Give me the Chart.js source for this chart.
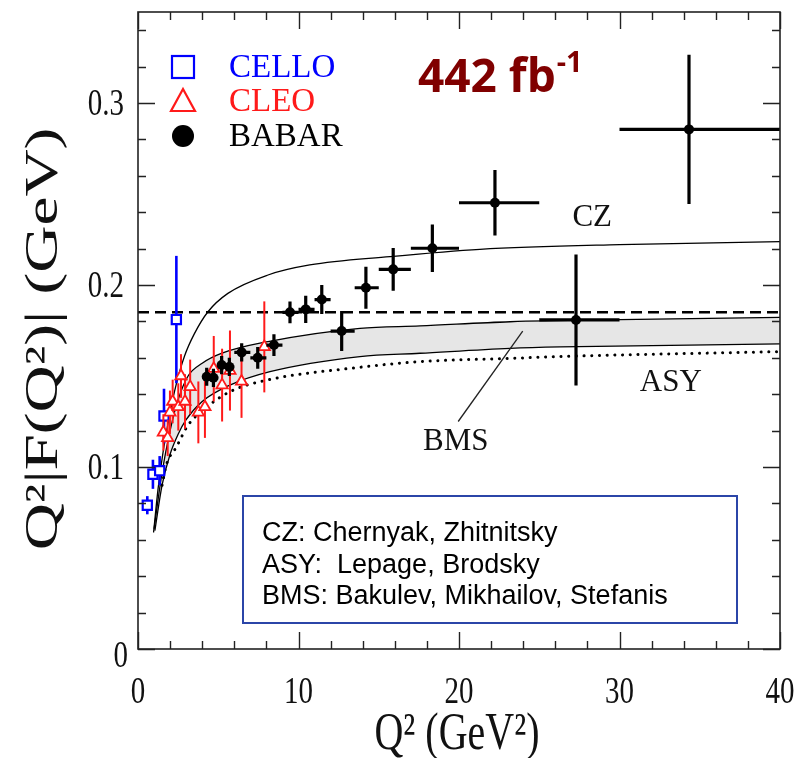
<!DOCTYPE html>
<html>
<head>
<meta charset="utf-8">
<script src="https://cdn.jsdelivr.net/npm/chart.js@4.4.1/dist/chart.umd.min.js"></script>
<style>
  html, body { margin: 0; padding: 0; background: #ffffff; }
  #wrap { width: 799px; height: 758px; }
</style>
</head>
<body>
<div id="wrap"><canvas id="c" width="799" height="758"></canvas></div>
<script>
// ---- measured pion transition form factor, Q^2 |F(Q^2)| in GeV ----
const celloQ2  = [0.58, 0.93, 1.35, 1.62, 2.39];
const celloF   = [0.079, 0.096, 0.098, 0.128, 0.181];
const celloErr = [0.005, 0.008, 0.008, 0.015, 0.035];

const cleoQ2  = [1.58, 1.85, 1.99, 2.16, 2.51, 2.68, 2.93, 3.25, 3.76, 4.17, 4.72, 5.24, 5.73, 6.45, 7.87];
const cleoF   = [0.119, 0.116, 0.130, 0.136, 0.133, 0.150, 0.136, 0.144, 0.130, 0.133, 0.154, 0.145, 0.153, 0.147, 0.166];
const cleoErr = [0.010, 0.010, 0.012, 0.012, 0.013, 0.012, 0.015, 0.015, 0.017, 0.017, 0.018, 0.020, 0.022, 0.020, 0.025];

const babarQ2    = [4.28, 4.70, 5.21, 5.69, 6.46, 7.46, 8.47, 9.47, 10.45, 11.45, 12.69, 14.20, 15.90, 18.34, 22.24, 27.29, 34.33];
const babarF     = [0.1496, 0.149, 0.156, 0.155, 0.163, 0.160, 0.167, 0.185, 0.1866, 0.192, 0.1747, 0.1985, 0.2086, 0.2202, 0.2452, 0.1808, 0.2855];
const babarErr   = [0.005, 0.005, 0.005, 0.005, 0.005, 0.006, 0.006, 0.006, 0.0075, 0.008, 0.011, 0.0115, 0.0117, 0.013, 0.018, 0.036, 0.041];
const babarBinLo = [4.0, 4.5, 5.0, 5.5, 6.0, 7.0, 8.0, 9.0, 10.0, 11.0, 12.0, 13.5, 15.0, 17.0, 20.0, 25.0, 30.0];
const babarBinHi = [4.5, 5.0, 5.5, 6.0, 7.0, 8.0, 9.0, 10.0, 11.0, 12.0, 13.5, 15.0, 17.0, 20.0, 25.0, 30.0, 40.0];

// ---- theory curves ----
const czQ2  = [0.97, 1.25, 1.56, 2.0, 2.37, 2.9, 3.5, 4.36, 5.6, 8.1, 10.7, 15.7, 21.3, 30, 40];
const czF   = [0.064, 0.088, 0.108, 0.130, 0.145, 0.161, 0.173, 0.1853, 0.1954, 0.2055, 0.211, 0.2156, 0.2196, 0.2222, 0.2238];

const bmsHiQ2 = [1.0, 1.5, 2.0, 2.5, 3.12, 4.0, 5.19, 8.1, 13.83, 17.57, 23.18, 30, 40];
const bmsHiF  = [0.066, 0.097, 0.120, 0.137, 0.150, 0.157, 0.1624, 0.1689, 0.1762, 0.1775, 0.1798, 0.181, 0.1822];
const bmsLoQ2 = [1.05, 1.5, 2.0, 2.5, 3.0, 4.0, 5.73, 8.22, 13.83, 17.57, 23.18, 26.3, 40];
const bmsLoF  = [0.065, 0.090, 0.107, 0.118, 0.126, 0.136, 0.145, 0.1524, 0.1607, 0.1625, 0.1652, 0.166, 0.1676];

const asyQ2 = [1.5, 1.76, 2.39, 3.12, 4.15, 5.73, 7.9, 13.83, 17.57, 23.18, 26.3, 40];
const asyF  = [0.090, 0.101, 0.111, 0.123, 0.132, 0.1414, 0.1475, 0.1548, 0.1579, 0.1597, 0.1607, 0.1634];

const asymptote = 0.185;   // 2 f_pi

// ---- axes ----
const xRange = [0, 40];
const yRange = [0, 0.35];
const xTickLabels = [0, 10, 20, 30, 40];
const yTickLabels = [0, 0.1, 0.2, 0.3];

const legendNames = ['CELLO', 'CLEO', 'BABAR'];
const boxLines = ['CZ: Chernyak, Zhitnitsky', 'ASY:  Lepage, Brodsky', 'BMS: Bakulev, Mikhailov, Stefanis'];

const BLUE = '#0000ff', RED = '#ff1a1a', BLACK = '#000000';
const SERIF = '"Liberation Serif", "Times New Roman", serif';

const pts = (xs, ys) => xs.map((x, i) => ({ x: x, y: ys[i] }));

const curve = { showLine: true, pointRadius: 0, borderColor: BLACK, borderWidth: 1.3,
                fill: false, cubicInterpolationMode: 'monotone' };

const datasets = [
  Object.assign({}, curve, { label: 'BMS', data: pts(bmsHiQ2, bmsHiF),
    backgroundColor: '#e6e6e6', fill: '+1', order: 10 }),
  Object.assign({}, curve, { label: 'BMS low', data: pts(bmsLoQ2, bmsLoF), order: 9 }),
  Object.assign({}, curve, { label: 'CZ', data: pts(czQ2, czF), order: 8 }),
  Object.assign({}, curve, { label: 'ASY', data: pts(asyQ2, asyF), borderWidth: 3,
    borderDash: [0.1, 7.6], borderCapStyle: 'round', order: 7 }),
  Object.assign({}, curve, { label: 'asymptotic',
    data: [{ x: xRange[0], y: asymptote }, { x: xRange[1], y: asymptote }],
    borderWidth: 2.4, borderDash: [11, 6], cubicInterpolationMode: 'default', order: 6 }),
  { label: 'CELLO', data: celloQ2.map((x, i) => ({ x: x, y: celloF[i], e: celloErr[i] })),
    showLine: false, pointStyle: 'rect', pointRadius: 6.5, pointBorderWidth: 2.2,
    borderColor: BLUE, backgroundColor: '#ffffff', errColor: BLUE, errWidth: 2.6, order: 3 },
  { label: 'CLEO', data: cleoQ2.map((x, i) => ({ x: x, y: cleoF[i], e: cleoErr[i] })),
    showLine: false, pointStyle: 'triangle', pointRadius: 6.5, pointBorderWidth: 1.8,
    borderColor: RED, backgroundColor: '#ffffff', errColor: RED, errWidth: 2, order: 2 },
  { label: 'BABAR', data: babarQ2.map((x, i) => ({ x: x, y: babarF[i], e: babarErr[i], xl: babarBinLo[i], xh: babarBinHi[i] })),
    showLine: false, pointStyle: 'circle', pointRadius: 5, pointBorderWidth: 0,
    borderColor: BLACK, backgroundColor: BLACK, errColor: BLACK, errWidth: 3.2, order: 1 }
];

// vertical (and horizontal bin) error bars, painted just under each marker set
const errorBars = {
  id: 'errorBars',
  beforeDatasetDraw(chart, args) {
    const ds = chart.data.datasets[args.index];
    if (!ds.errColor) return;
    const { ctx, chartArea } = chart;
    const xs = chart.scales.x, ys = chart.scales.y;
    ctx.save();
    ctx.beginPath();
    ctx.rect(chartArea.left, chartArea.top, chartArea.right - chartArea.left, chartArea.bottom - chartArea.top);
    ctx.clip();
    ctx.strokeStyle = ds.errColor;
    ctx.lineWidth = ds.errWidth;
    ctx.lineCap = 'butt';
    ds.data.forEach(p => {
      const px = xs.getPixelForValue(p.x);
      ctx.beginPath();
      ctx.moveTo(px, ys.getPixelForValue(p.y - p.e));
      ctx.lineTo(px, ys.getPixelForValue(p.y + p.e));
      if (p.xl !== undefined) {
        const py = ys.getPixelForValue(p.y);
        ctx.moveTo(xs.getPixelForValue(p.xl), py);
        ctx.lineTo(xs.getPixelForValue(p.xh), py);
      }
      ctx.stroke();
    });
    ctx.restore();
  }
};

// frame, inward ticks on all four sides, labels and annotations
const decorations = {
  id: 'decorations',
  afterDraw(chart) {
    const { ctx, chartArea: a } = chart;
    const xs = chart.scales.x, ys = chart.scales.y;
    ctx.save();
    ctx.strokeStyle = '#222';
    ctx.lineWidth = 1.6;
    ctx.strokeRect(a.left, a.top, a.right - a.left, a.bottom - a.top);
    ctx.lineWidth = 1.4;
    ctx.beginPath();
    for (let v = xRange[0]; v <= xRange[1] + 1e-9; v += 2) {
      const len = (Math.round(v) % 10 === 0) ? 17 : 8;
      const px = Math.round(xs.getPixelForValue(v)) + 0.5;
      ctx.moveTo(px, a.bottom); ctx.lineTo(px, a.bottom - len);
      ctx.moveTo(px, a.top); ctx.lineTo(px, a.top + len);
    }
    for (let k = 0; k <= 17; k++) {
      const v = k * 0.02;
      const len = (k % 5 === 0) ? 17 : 8;
      const py = Math.round(ys.getPixelForValue(v)) + 0.5;
      ctx.moveTo(a.left, py); ctx.lineTo(a.left + len, py);
      ctx.moveTo(a.right, py); ctx.lineTo(a.right - len, py);
    }
    ctx.stroke();

    // tick labels (tall serif digits)
    ctx.fillStyle = '#111';
    ctx.font = '29px ' + SERIF;
    const stretch = 1.3;
    ctx.textAlign = 'center';
    ctx.textBaseline = 'alphabetic';
    xs.ticks.forEach(t => {
      const px = xs.getPixelForValue(t.value);
      ctx.save(); ctx.translate(px, 703); ctx.scale(1, stretch);
      ctx.fillText(String(t.value), 0, 0); ctx.restore();
    });
    ctx.textAlign = 'right';
    ys.ticks.forEach(t => {
      const py = ys.getPixelForValue(t.value);
      const label = t.value === 0 ? '0' : t.value.toFixed(1);
      const dy = t.value === 0 ? 18 : 12;
      ctx.save(); ctx.translate(t.value === 0 ? 128 : 124, py + dy); ctx.scale(1, stretch);
      ctx.fillText(label, 0, 0); ctx.restore();
    });

    // axis titles
    ctx.font = '40px ' + SERIF;
    ctx.textAlign = 'center';
    ctx.save(); ctx.translate((a.left + a.right) / 2 - 2, 749); ctx.scale(1, stretch);
    ctx.fillText('Q\u00B2 (GeV\u00B2)', 0, 0); ctx.restore();
    ctx.font = '46px ' + SERIF;
    ctx.save(); ctx.translate(57, 339); ctx.rotate(-Math.PI / 2); ctx.scale(1.42, 1);
    ctx.fillText('Q\u00B2|F(Q\u00B2)| (GeV)', 0, 0); ctx.restore();

    // legend, top left inside the frame
    const lx = 183, ly = [67, 101, 136];
    const lcolors = [BLUE, RED, BLACK];
    ctx.lineWidth = 2.2;
    ctx.strokeStyle = BLUE;
    ctx.strokeRect(lx - 11, ly[0] - 11, 22, 22);
    ctx.strokeStyle = RED;
    ctx.beginPath();
    ctx.moveTo(lx, ly[1] - 12); ctx.lineTo(lx + 12, ly[1] + 10); ctx.lineTo(lx - 12, ly[1] + 10); ctx.closePath();
    ctx.stroke();
    ctx.fillStyle = BLACK;
    ctx.beginPath(); ctx.arc(lx, ly[2], 11, 0, Math.PI * 2); ctx.fill();
    ctx.font = '33px ' + SERIF;
    ctx.textAlign = 'left';
    ctx.textBaseline = 'middle';
    legendNames.forEach((n, i) => { ctx.fillStyle = lcolors[i]; ctx.fillText(n, 229, ly[i] + 1); });

    // luminosity tag
    ctx.fillStyle = '#800000';
    ctx.font = 'bold 46px "Open Sans", "Liberation Sans", sans-serif';
    ctx.textBaseline = 'alphabetic';
    ctx.fillText('442 fb', 418, 92);
    const w = ctx.measureText('442 fb').width;
    ctx.font = 'bold 29px "Open Sans", "Liberation Sans", sans-serif';
    ctx.fillText('-1', 418 + w + 1, 72);

    // curve names
    ctx.fillStyle = '#111';
    ctx.font = '31px ' + SERIF;
    ctx.textAlign = 'center';
    ctx.textBaseline = 'middle';
    ctx.fillText('CZ', xs.getPixelForValue(28.3), ys.getPixelForValue(0.237));
    ctx.fillText('ASY', xs.getPixelForValue(33.2), ys.getPixelForValue(0.146));
    ctx.fillText('BMS', xs.getPixelForValue(19.8), ys.getPixelForValue(0.114));
    ctx.strokeStyle = '#222';
    ctx.lineWidth = 1.3;
    ctx.beginPath();
    ctx.moveTo(xs.getPixelForValue(19.95), ys.getPixelForValue(0.125));
    ctx.lineTo(xs.getPixelForValue(23.97), ys.getPixelForValue(0.1747));
    ctx.stroke();

    // reference box
    ctx.fillStyle = '#ffffff';
    ctx.fillRect(243, 496, 494, 127);
    ctx.strokeStyle = '#2b45a8';
    ctx.lineWidth = 2;
    ctx.strokeRect(243, 496, 494, 127);
    ctx.fillStyle = '#000';
    ctx.font = '27px "Liberation Sans", Arial, sans-serif';
    ctx.textAlign = 'left';
    ctx.textBaseline = 'middle';
    boxLines.forEach((s, i) => ctx.fillText(s, 262, 534 + i * 31.5));
    ctx.restore();
  }
};

new Chart(document.getElementById('c'), {
  type: 'scatter',
  data: { datasets: datasets },
  plugins: [errorBars, decorations],
  options: {
    responsive: false,
    animation: false,
    events: [],
    layout: { padding: { left: 0, right: 19, top: 12, bottom: 0 } },
    plugins: { legend: { display: false }, tooltip: { enabled: false } },
    scales: {
      x: {
        type: 'linear', min: xRange[0], max: xRange[1],
        grid: { display: false, drawTicks: false },
        border: { display: false },
        ticks: { display: false },
        afterBuildTicks: s => { s.ticks = xTickLabels.map(v => ({ value: v })); },
        afterFit: s => { s.height = 109; }
      },
      y: {
        type: 'linear', min: yRange[0], max: yRange[1],
        grid: { display: false, drawTicks: false },
        border: { display: false },
        ticks: { display: false },
        afterBuildTicks: s => { s.ticks = yTickLabels.map(v => ({ value: v })); },
        afterFit: s => { s.width = 138; }
      }
    }
  }
});
</script>
</body>
</html>
